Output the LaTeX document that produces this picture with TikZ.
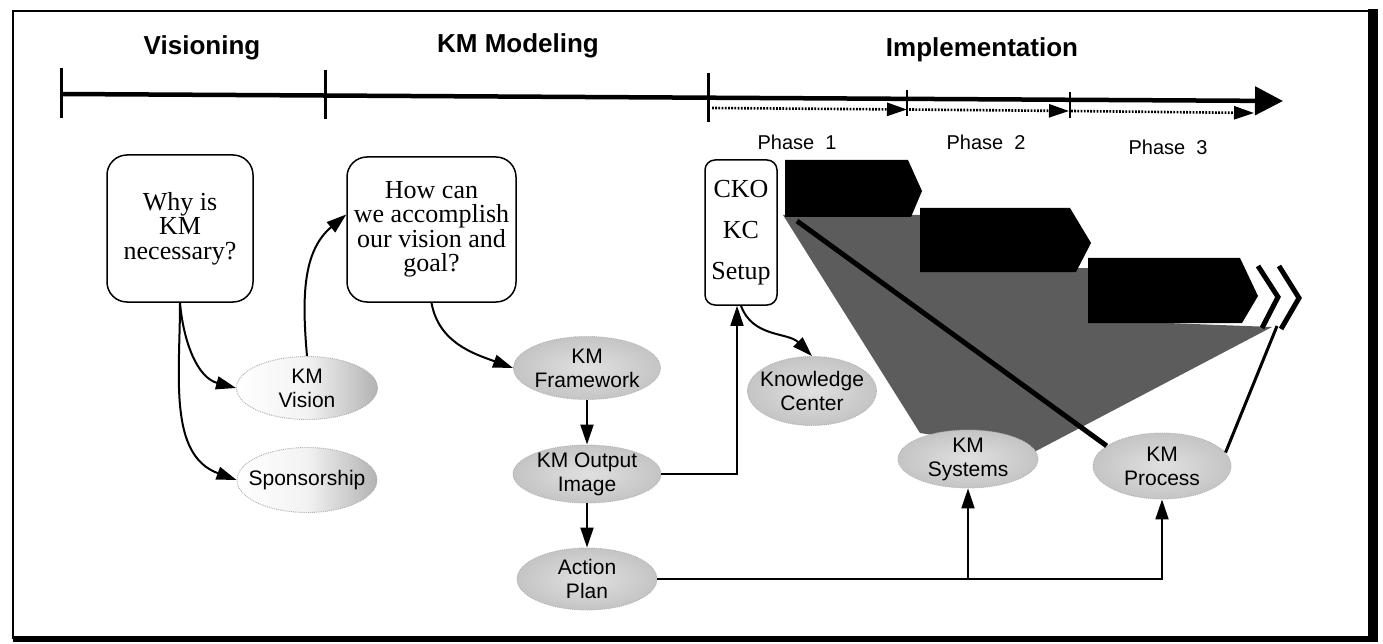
\documentclass[tikz,border=0pt]{standalone}
\usepackage{fontspec}
\setmainfont{Liberation Serif}
\setsansfont{Liberation Sans}
\usetikzlibrary{arrows.meta,shapes.geometric}
\begin{document}
\begin{tikzpicture}[x=1pt,y=-1pt,
  header/.style={font=\sffamily\bfseries\fontsize{26}{30}\selectfont,anchor=base,inner sep=0pt},
  phasetag/.style={font=\sffamily\fontsize{20}{24}\selectfont,anchor=base,inner sep=0pt},
  question/.style={draw,line width=1.5pt,rounded corners=20pt,align=center,inner sep=0pt,
    font=\fontsize{26}{24.5}\selectfont},
  oval/.style={ellipse,inner sep=0pt,line width=0.9pt,densely dotted},
  lightoval/.style={oval,draw=gray!65,left color=white,right color=gray!60,middle color=gray!10},
  darkoval/.style={oval,draw=gray!60,inner color=gray!24,outer color=gray!46},
  ovaltext/.style={align=center,font=\sffamily\fontsize{21}{24}\selectfont,inner sep=0pt},
  conn/.style={line width=2pt,-{Triangle[length=20pt,width=13pt]}},
  thinconn/.style={line width=1.6pt,-{Triangle[length=20pt,width=13pt]}},
  ticklong/.style={line width=3pt},
  tickshort/.style={line width=1.8pt},
  dotline/.style={line width=2.6pt,dash pattern=on 1.8pt off 1.4pt,-{Triangle[length=20pt,width=13pt]}},
  stagebar/.style={fill=black},
  chevron/.style={line width=5pt,miter limit=10},
]
\useasboundingbox (0,0) rectangle (1383,644);

% frame with heavy right and bottom edges
\draw[line width=1.6pt] (13,639) -- (13,11) -- (1373,11);
\fill (1368,9) rectangle (1378,642);
\fill (13,636) rectangle (1378,642);

% stage headings
\node[header] (hvis) at (202,55) {Visioning};
\node[header] (hmod) at (518,53) {KM Modeling};
\node[header] (himp) at (982,57) {Implementation};

% main time line
\coordinate (tl0) at (61,94);
\coordinate (tl1) at (1283,101);
\draw[line width=4.5pt,-{Triangle[length=28pt,width=28pt]}] (tl0) -- (tl1);
\draw[ticklong] (61,68) -- (61,118);
\draw[ticklong] (325,70) -- (325,119);
\draw[ticklong] (708,73) -- (708,122);
\draw[tickshort] (907,90) -- (907,116);
\draw[tickshort] (1070,92) -- (1070,118);

% phase sub-line
\coordinate (ph0) at (712,108);
\coordinate (ph1) at (907,109.5);
\coordinate (ph2) at (1069,111);
\coordinate (ph3) at (1254,113);
\draw[dotline] (ph0) -- (ph1);
\draw[dotline] ([xshift=2pt]ph1) -- (ph2);
\draw[dotline] ([xshift=2pt]ph2) -- (ph3);

\node[phasetag] (p1) at (797,150) {Phase\hspace{11pt}1};
\node[phasetag] (p2) at (986,150) {Phase\hspace{11pt}2};
\node[phasetag] (p3) at (1168,155) {Phase\hspace{11pt}3};

% implementation wedge
\fill[black!64] (783,215) -- (921,215) -- (921,268) -- (1089,268) -- (1089,320)
  -- (1272,327) -- (1036,451) -- (920,433) -- cycle;

% phase bars
\fill[stagebar] (785,160) -- (908,160) -- (922,191) -- (911,217) -- (785,217) -- cycle;
\fill[stagebar] (920,208) -- (1070,208) -- (1091,243) -- (1076,272) -- (920,272) -- cycle;
\fill[stagebar] (1088,258) -- (1240,258) -- (1258,296) -- (1242,323) -- (1088,323) -- cycle;
\draw[chevron] (1258,266) -- (1278,297) -- (1262,328);
\draw[chevron] (1279,266) -- (1299,298) -- (1281,329);

% question boxes
\node[question,minimum width=146pt,minimum height=147pt] (why) at (180,228.5)
  {Why is\\KM\\necessary?};
\node[question,minimum width=169pt,minimum height=145pt] (how) at (431.5,229.5)
  {How can\\we accomplish\\our vision and\\goal?};
\node[question,rounded corners=10pt,minimum width=72pt,minimum height=145pt,
  font=\fontsize{26}{41}\selectfont] (cko) at (741,232.5) {CKO\\KC\\Setup};

% ovals
\node[lightoval,minimum width=141pt,minimum height=63pt] (vision) at (307,388) {};
\node[ovaltext] (visiontxt) at (vision) {KM\\Vision};
\node[lightoval,minimum width=140pt,minimum height=65pt] (spons) at (307,480) {};
\node[ovaltext] (sponstxt) at (spons) {Sponsorship};
\node[darkoval,minimum width=147pt,minimum height=63pt] (frame) at (587,368) {};
\node[ovaltext] (frametxt) at (frame) {KM\\Framework};
\node[darkoval,minimum width=148pt,minimum height=58pt] (output) at (587,474) {};
\node[ovaltext] (outputtxt) at (output) {KM Output\\Image};
\node[darkoval,minimum width=140pt,minimum height=62pt] (action) at (587,579) {};
\node[ovaltext] (actiontxt) at (action) {Action\\Plan};
\node[darkoval,minimum width=129pt,minimum height=69pt] (know) at (812,391) {};
\node[ovaltext] (knowtxt) at (know) {Knowledge\\Center};
\node[darkoval,minimum width=140pt,minimum height=58pt] (systems) at (968,459) {};
\node[ovaltext] (systemstxt) at (systems) {KM\\Systems};
\node[darkoval,minimum width=138pt,minimum height=66pt] (process) at (1162,466) {};
\node[ovaltext] (processtxt) at (process) {KM\\Process};

% wedge edges
\coordinate (diag0) at (797,221);
\coordinate (chev) at (1277,326);
\draw[line width=5pt] (diag0) -- (process.160);
\draw[line width=3pt] (process.12) -- (chev);

% connectors
\draw[conn] (why.south) to[out=-85,in=165] (vision.west);
\draw[conn] (why.south) to[out=-90,in=160] (spons.west);
\draw[conn] (vision.north) to[out=95,in=220] (how.170);
\draw[conn] (how.south) to[out=-80,in=160] (frame.west);
\draw[conn] (frame.south) -- (output.north);
\draw[conn] (output.south) -- (action.north);
\draw[thinconn] (output.east) -| ([xshift=-4pt]cko.south);
\draw[conn] (cko.south) to[out=-70,in=135] (know.north);
\draw[conn] (action.east) -| (systems.south);
\draw[conn] (action.east) -| (process.south);
\end{tikzpicture}
\end{document}
